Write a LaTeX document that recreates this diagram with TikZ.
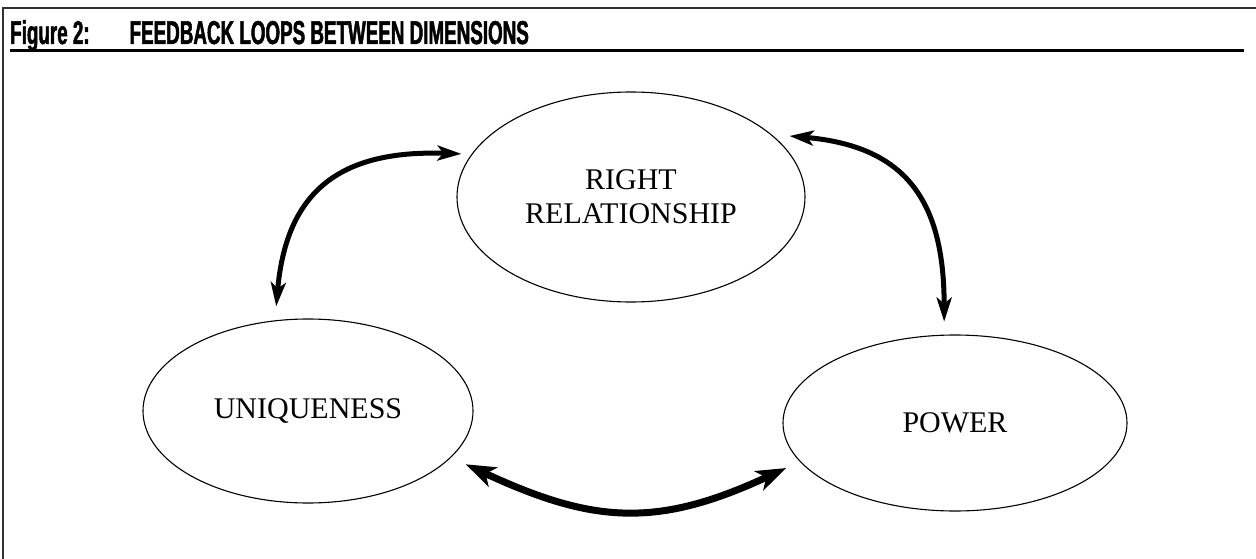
\documentclass[tikz,border=0pt]{standalone}
\usepackage{fontspec}
\setmainfont{Liberation Serif}
\newfontfamily\titlefont[FakeStretch=0.57, BoldFeatures={FakeBold=1.5}]{Liberation Sans}
\usetikzlibrary{shapes,arrows.meta}

\begin{document}
\begin{tikzpicture}[x=1pt, y=-1pt,
  dimnode/.style={ellipse, draw, line width=1.1pt, inner sep=0pt, align=center,
    font=\fontsize{30}{34}\selectfont},
  feedback/.style={line width=5pt, looseness=1.3,
    {Stealth[length=24pt,width=15pt,inset=6pt]}-{Stealth[length=24pt,width=15pt,inset=6pt]}},
  feedbackbig/.style={line width=7pt, looseness=1.15,
    {Stealth[length=30pt,width=21pt,inset=8pt]}-{Stealth[length=30pt,width=21pt,inset=8pt]}}]
\useasboundingbox (0,0) rectangle (1256,559);
% frame and title
\draw [line width=1.5pt, black!80] (3,559) -- (3,8) -- (1256,8);
\node [anchor=base west, inner sep=0pt, font=\titlefont\bfseries\fontsize{33}{36}\selectfont] (title) at (10,44) {Figure 2:\hspace{40pt}FEEDBACK LOOPS BETWEEN DIMENSIONS};
\draw [line width=3pt] (10,51) -- (1244,51);
% the three dimensions
\node [dimnode, minimum width=348pt, minimum height=210pt] (rr) at (631,197) {RIGHT\\RELATIONSHIP};
\node [dimnode, minimum width=330pt, minimum height=184pt] (uniq) at (308,411) {UNIQUENESS};
\node [dimnode, minimum width=344pt, minimum height=176pt] (power) at (955,423) {POWER};
% feedback loops
\draw [feedback, shorten <=14pt, shorten >=10pt] (uniq.110) to[out=85, in=178] (rr.165);
\draw [feedback, shorten <=18pt, shorten >=13pt] (rr.24) to[out=-5, in=90] (power.97);
\draw [feedbackbig, shorten <=16pt, shorten >=15pt] (uniq.-18) to[out=-25, in=205] (power.194);
\end{tikzpicture}
\end{document}
